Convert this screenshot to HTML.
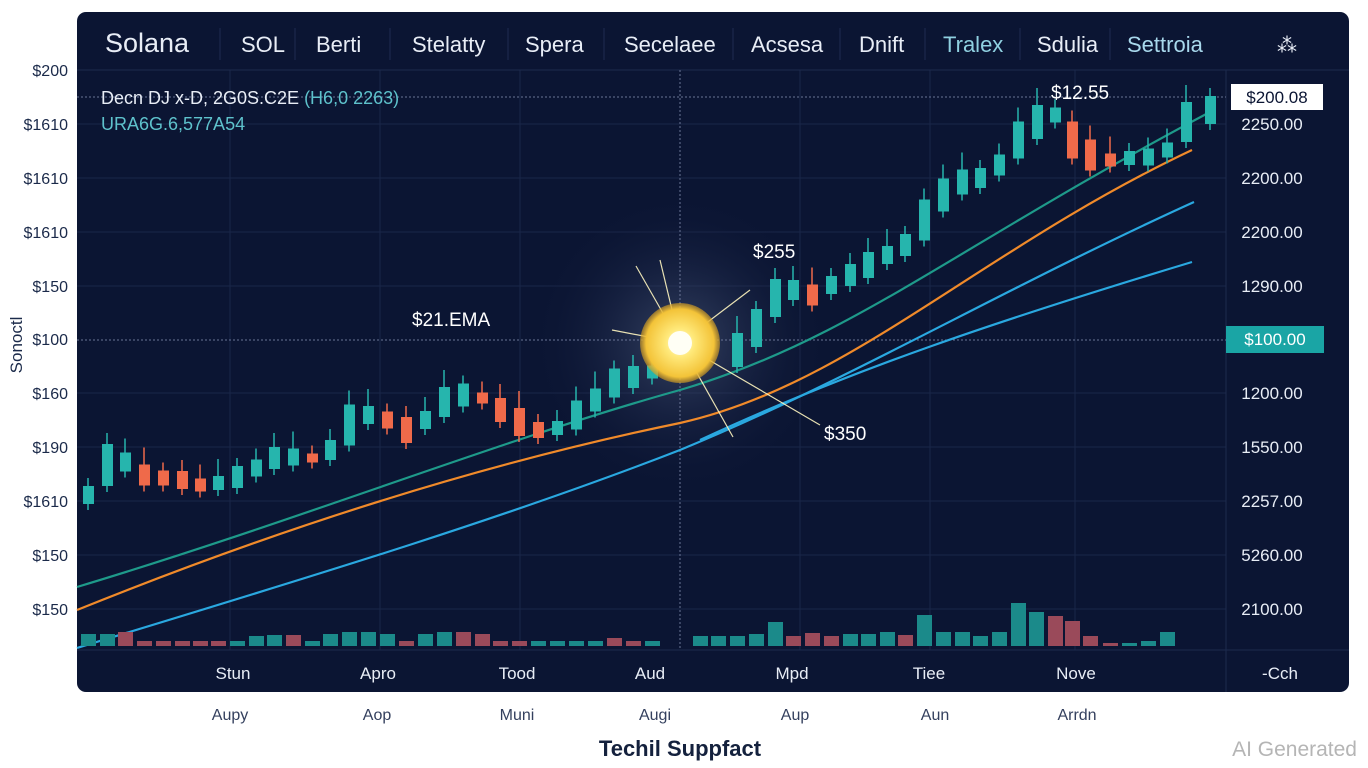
<!DOCTYPE html>
<html><head><meta charset="utf-8"><style>
html,body{margin:0;padding:0;background:#fff;width:1368px;height:768px;overflow:hidden}
svg{display:block;font-family:"Liberation Sans",sans-serif}
</style></head><body>
<svg id="s" width="1368" height="768" viewBox="0 0 1368 768" xmlns="http://www.w3.org/2000/svg">
<defs>
<radialGradient id="halo" cx="50%" cy="50%" r="50%">
<stop offset="0" stop-color="#5a6a8a" stop-opacity="0.55"/>
<stop offset="0.5" stop-color="#2a3658" stop-opacity="0.35"/>
<stop offset="1" stop-color="#0b1533" stop-opacity="0"/>
</radialGradient>
<radialGradient id="sun" cx="50%" cy="50%" r="50%">
<stop offset="0" stop-color="#fffef0"/>
<stop offset="0.35" stop-color="#ffe97a"/>
<stop offset="0.85" stop-color="#f3c338"/>
<stop offset="1" stop-color="#d8a020" stop-opacity="0.6"/>
</radialGradient>
</defs>
<rect x="77" y="12" width="1272" height="680" rx="9" fill="#0b1533"/>
<g id="grid" stroke="#1a2648" stroke-width="1"></g>
<line x1="77" y1="70" x2="1349" y2="70" stroke="#1d2a4e"/>
<line x1="77" y1="650" x2="1349" y2="650" stroke="#1d2a4e"/>
<line x1="1226" y1="70" x2="1226" y2="692" stroke="#1d2a4e"/>
<circle cx="680" cy="343" r="150" fill="url(#halo)"/>
<line x1="77" y1="97" x2="1226" y2="97" stroke="#6a7596" stroke-dasharray="2 2" stroke-width="1"/>
<line x1="77" y1="340" x2="1226" y2="340" stroke="#6a7596" stroke-dasharray="2 2" stroke-width="1"/>
<line x1="680" y1="70" x2="680" y2="650" stroke="#6a7596" stroke-dasharray="2 2" stroke-width="1"/>
<!-- tabs -->
<g fill="#e8edf6" font-size="22">
<text x="105" y="52" font-size="27">Solana</text>
<text x="241" y="52">SOL</text>
<text x="316" y="52">Berti</text>
<text x="412" y="52">Stelatty</text>
<text x="525" y="52">Spera</text>
<text x="624" y="52">Secelaee</text>
<text x="751" y="52">Acsesa</text>
<text x="859" y="52">Dnift</text>
<text x="943" y="52" fill="#8fd0e0">Tralex</text>
<text x="1037" y="52">Sdulia</text>
<text x="1127" y="52" fill="#a8d8ec">Settroia</text>
<text x="1277" y="52" font-size="20">⁂</text>
</g>
<g stroke="#1f2c50"><line x1="220" y1="28" x2="220" y2="60"/><line x1="295" y1="28" x2="295" y2="60"/><line x1="390" y1="28" x2="390" y2="60"/><line x1="508" y1="28" x2="508" y2="60"/><line x1="604" y1="28" x2="604" y2="60"/><line x1="733" y1="28" x2="733" y2="60"/><line x1="840" y1="28" x2="840" y2="60"/><line x1="925" y1="28" x2="925" y2="60"/><line x1="1020" y1="28" x2="1020" y2="60"/><line x1="1110" y1="28" x2="1110" y2="60"/></g>
<text x="101" y="104" fill="#e8edf6" font-size="18">Decn DJ x-D, 2G0S.C2E <tspan fill="#5ec2cc">(H6,0 2263)</tspan></text>
<text x="101" y="130" fill="#5ec2cc" font-size="18">URA6G.6,577A54</text>
<!-- lines -->
<path d="M77,587 C300,520 500,440 680,390 C850,340 950,250 1210,112" fill="none" stroke="#1e9a8a" stroke-width="2.2"/>
<path d="M77,610 C300,520 500,460 680,423 C850,385 980,250 1192,150" fill="none" stroke="#f08a2a" stroke-width="2.2"/>
<path d="M77,648 C300,580 500,520 680,450 C850,380 1000,290 1194,202" fill="none" stroke="#2aa8e0" stroke-width="2.2"/>
<path d="M700,440 C850,370 1000,320 1192,262" fill="none" stroke="#2aa8e0" stroke-width="2.2"/>
<g id="cand"></g>
<g id="vol"></g>
<!-- sun -->
<g stroke="#fff6c0" stroke-width="1.2" opacity="0.9">
<line x1="636" y1="266" x2="680" y2="343"/><line x1="750" y1="290" x2="680" y2="343"/><line x1="612" y1="330" x2="680" y2="343"/><line x1="733" y1="437" x2="680" y2="343"/><line x1="820" y1="425" x2="680" y2="343"/><line x1="660" y1="260" x2="680" y2="343"/>
</g>
<circle cx="680" cy="343" r="40" fill="url(#sun)"/>
<circle cx="680" cy="343" r="12" fill="#fffff5"/>
<g fill="#ffffff" font-size="19">
<text x="412" y="326">$21.EMA</text>
<text x="753" y="258">$255</text>
<text x="824" y="440">$350</text>
<text x="1051" y="99">$12.55</text>
</g>
<!-- left axis -->
<g fill="#1b2a4a" font-size="16" text-anchor="end">
<text x="68" y="76">$200</text><text x="68" y="130">$1610</text><text x="68" y="184">$1610</text><text x="68" y="238">$1610</text><text x="68" y="292">$150</text><text x="68" y="345">$100</text><text x="68" y="399">$160</text><text x="68" y="453">$190</text><text x="68" y="507">$1610</text><text x="68" y="561">$150</text><text x="68" y="615">$150</text>
</g>
<text transform="translate(22,345) rotate(-90)" fill="#1b2a4a" font-size="17" text-anchor="middle">Sonoctl</text>
<!-- right axis -->
<rect x="1231" y="84" width="92" height="26" fill="#ffffff"/>
<text x="1277" y="103" fill="#0b1533" font-size="17" text-anchor="middle">$200.08</text>
<rect x="1226" y="326" width="98" height="27" fill="#1aa5a5"/>
<text x="1275" y="345" fill="#ffffff" font-size="17" text-anchor="middle">$100.00</text>
<g fill="#e8edf6" font-size="17" text-anchor="middle">
<text x="1272" y="130">2250.00</text><text x="1272" y="184">2200.00</text><text x="1272" y="238">2200.00</text><text x="1272" y="292">1290.00</text><text x="1272" y="399">1200.00</text><text x="1272" y="453">1550.00</text><text x="1272" y="507">2257.00</text><text x="1272" y="561">5260.00</text><text x="1272" y="615">2100.00</text>
</g>
<!-- bottom -->
<g fill="#e8edf6" font-size="17" text-anchor="middle">
<text x="233" y="679">Stun</text><text x="378" y="679">Apro</text><text x="517" y="679">Tood</text><text x="650" y="679">Aud</text><text x="792" y="679">Mpd</text><text x="929" y="679">Tiee</text><text x="1076" y="679">Nove</text><text x="1280" y="679">-Cch</text>
</g>
<g fill="#34405e" font-size="16" text-anchor="middle">
<text x="230" y="720">Aupy</text><text x="377" y="720">Aop</text><text x="517" y="720">Muni</text><text x="655" y="720">Augi</text><text x="795" y="720">Aup</text><text x="935" y="720">Aun</text><text x="1077" y="720">Arrdn</text>
</g>
<text x="680" y="756" fill="#14213d" font-size="22" font-weight="bold" text-anchor="middle">Techil Suppfact</text>
<text x="1357" y="756" fill="#b5b5b5" font-size="21" text-anchor="end">AI Generated</text>
</svg>
<script>
var NS="http://www.w3.org/2000/svg",g=document.getElementById('grid');
function el(p,t,a){var e=document.createElementNS(NS,t);for(var k in a)e.setAttribute(k,a[k]);p.appendChild(e);return e;}
[124,178,232,286,393,447,501,555,609].forEach(function(y){el(g,'line',{x1:77,y1:y,x2:1226,y2:y});});
[230,380,520,800,930,1075].forEach(function(x){el(g,'line',{x1:x,y1:70,x2:x,y2:650});});
var pts=[[88,495],[107,465],[125,462],[144,475],[163,478],[182,480],[200,485],[218,483],[237,477],[256,468],[274,458],[293,457],[312,458],[330,450],[349,425],[368,415],[387,420],[406,430],[425,420],[444,402],[463,395],[482,398],[500,410],[519,422],[538,430],[557,428],[576,415],[595,400],[614,383],[633,377],[652,372],[737,350],[756,328],[775,298],[793,290],[812,295],[831,285],[850,275],[868,265],[887,255],[905,245],[924,220],[943,195],[962,182],[980,178],[999,165],[1018,140],[1037,122],[1055,115],[1072,140],[1090,155],[1110,160],[1129,158],[1148,157],[1167,150],[1186,122],[1210,110]];
var c=document.getElementById('cand');
pts.forEach(function(p,i){
 var prev=i?pts[i-1][1]:p[1]+10; var up=p[1]<=prev;
 var col=up?'#26b5ad':'#ef6a4a';
 var h=Math.max(4,Math.abs(prev-p[1])+8+(i%3)*4);
 el(c,'line',{x1:p[0],y1:p[1]-h/2-8-(i%4)*3,x2:p[0],y2:p[1]+h/2+6,stroke:col,'stroke-width':1.5});
 el(c,'rect',{x:p[0]-5,y:p[1]-h/2,width:11,height:h,fill:col});
});
var v=document.getElementById('vol'),base=646;
var vols=[[88,12,1],[107,12,1],[125,14,0],[144,5,0],[163,5,0],[182,5,0],[200,5,0],[218,5,0],[237,5,1],[256,10,1],[274,11,1],[293,11,0],[312,5,1],[330,12,1],[349,14,1],[368,14,1],[387,12,1],[406,5,0],[425,12,1],[444,14,1],[463,14,0],[482,12,0],[500,5,0],[519,5,0],[538,5,1],[557,5,1],[576,5,1],[595,5,1],[614,8,0],[633,5,0],[652,5,1],[700,10,1],[718,10,1],[737,10,1],[756,12,1],[775,24,1],[793,10,0],[812,13,0],[831,10,0],[850,12,1],[868,12,1],[887,14,1],[905,11,0],[924,31,1],[943,14,1],[962,14,1],[980,10,1],[999,14,1],[1018,43,1],[1036,34,1],[1055,30,0],[1072,25,0],[1090,10,0],[1110,3,0],[1129,3,1],[1148,5,1],[1167,14,1]];
vols.forEach(function(q){el(v,'rect',{x:q[0]-7,y:base-q[1],width:15,height:q[1],fill:q[2]?'#1b8a8a':'#9a4a5a'});});
</script>
</body></html>
